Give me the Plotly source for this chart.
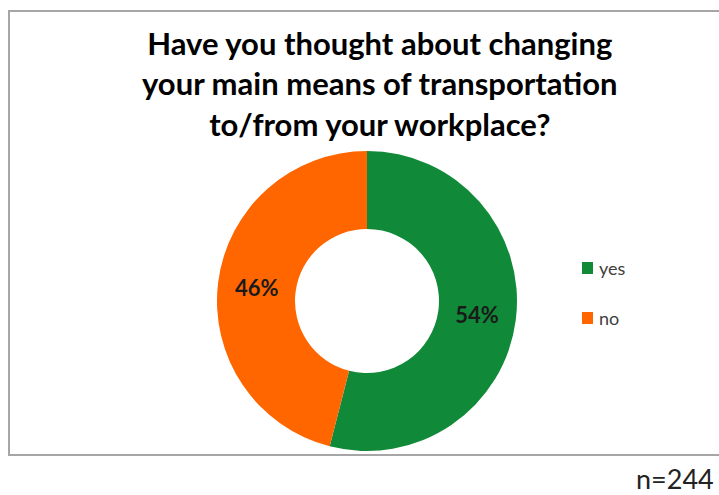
import plotly.graph_objects as go

categories = ["yes", "no"]
values = [54, 46]
colors = ["#108a38", "#ff6600"]
title_lines = ["Have you thought about changing",
               "your main means of transportation",
               "to/from your workplace?"]
note = "n=244"

W, H = 719, 495
cx, cy, r = 367, 301, 150

fig = go.Figure()
fig.add_trace(go.Pie(
    labels=categories, values=values, hole=0.48, sort=False,
    direction="clockwise", rotation=0,
    marker=dict(colors=colors, line=dict(width=0)),
    texttemplate="<b>%{percent:.0%}</b>", textposition="inside",
    insidetextorientation="horizontal",
    textfont=dict(family="Lato", size=22, color="#1a1a1a"),
    showlegend=False, hoverinfo="label+percent",
    domain=dict(x=[(cx - r) / W, (cx + r) / W], y=[1 - (cy + r) / H, 1 - (cy - r) / H]),
))

shapes = [dict(type="rect", xref="paper", yref="paper",
               x0=9 / W, x1=1.01, y0=1 - 455 / H, y1=1 - 11 / H,
               line=dict(color="#a6a6a6", width=2), fillcolor="rgba(0,0,0,0)")]
annotations = [dict(text="<b>" + "<br>".join(title_lines) + "</b>",
                    x=380 / W, y=1 - 84 / H, xref="paper", yref="paper",
                    showarrow=False, font=dict(family="Lato", size=31, color="#000000"),
                    align="center", xanchor="center", yanchor="middle")]

leg_y = [268, 318]
for cat, col, ly in zip(categories, colors, leg_y):
    shapes.append(dict(type="rect", xref="paper", yref="paper",
                       x0=582 / W, x1=593 / W, y0=1 - (ly + 6) / H, y1=1 - (ly - 6) / H,
                       fillcolor=col, line=dict(width=0)))
    annotations.append(dict(text=cat, x=597 / W, y=1 - ly / H, xref="paper", yref="paper",
                            showarrow=False, xanchor="left", yanchor="middle",
                            font=dict(family="Lato", size=18, color="#404040")))

annotations.append(dict(text=note, x=716 / W, y=1 - 478 / H, xref="paper", yref="paper",
                        showarrow=False, xanchor="right", yanchor="middle",
                        font=dict(family="Lato", size=27, color="#222222")))

fig.update_layout(width=W, height=H, margin=dict(l=0, r=0, t=0, b=0),
                  paper_bgcolor="white", plot_bgcolor="white",
                  shapes=shapes, annotations=annotations)
fig.write_html("out.html")
